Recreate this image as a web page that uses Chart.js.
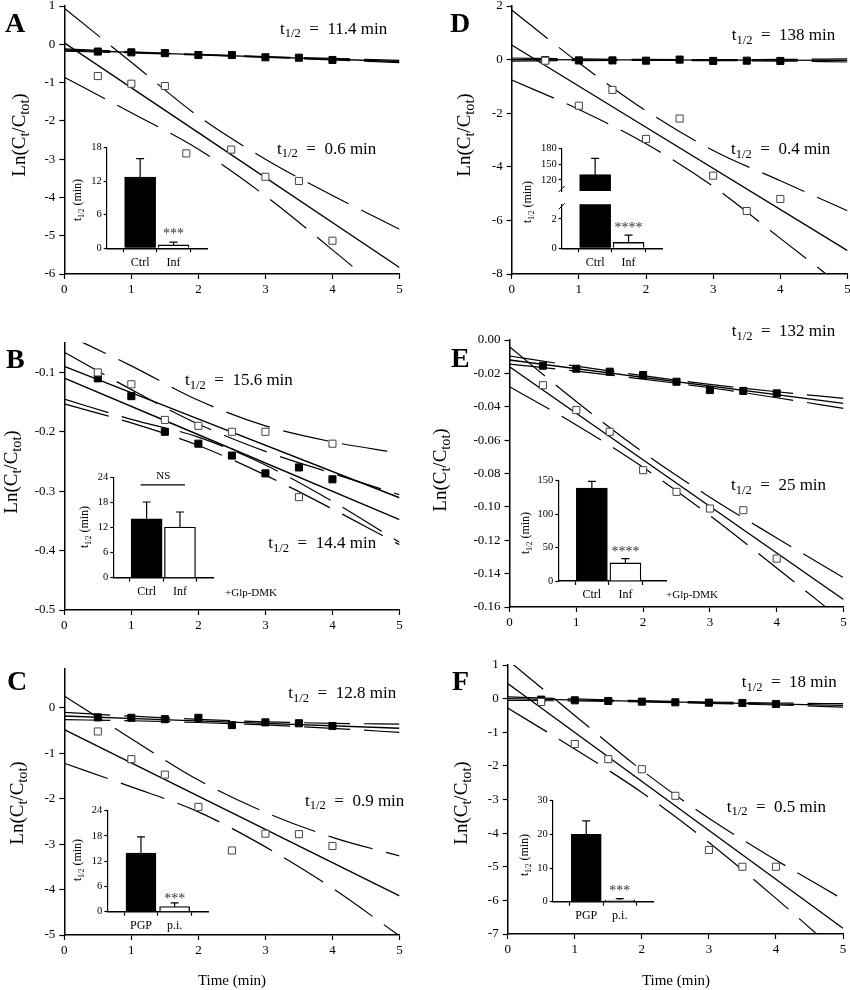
<!DOCTYPE html>
<html>
<head>
<meta charset="utf-8">
<title>Half-life plots A-F</title>
<script src="https://cdn.jsdelivr.net/npm/chart.js@4.4.1/dist/chart.umd.min.js"></script>
<style>
  html, body { margin: 0; padding: 0; background: #fff; }
  body { width: 850px; height: 990px; position: relative; overflow: hidden; }
  canvas { position: absolute; }
</style>
</head>
<body>
<script>
// sampling times (min) and times used for fitted lines / confidence bands
const times = [0.5, 1, 1.5, 2, 2.5, 3, 3.5, 4];
const fitEnds = [0, 5];
const bandTimes = [0, 1, 2, 3, 4, 5];

// panel A
const aCtrl = [-0.19, -0.21, -0.23, -0.28, -0.28, -0.34, -0.35, -0.41];
const aInfTimes = [0.5, 1, 1.5, 1.82, 2.49, 3, 3.5, 4];
const aInf = [-0.83, -1.03, -1.09, -2.85, -2.75, -3.46, -3.57, -5.13];
const aCtrlFit = [-0.15, -0.45];
const aCtrlHi = [-0.12, -0.195, -0.26, -0.32, -0.37, -0.42];
const aCtrlLo = [-0.18, -0.225, -0.28, -0.34, -0.41, -0.48];
const aInfFit = [0.04, -5.83];
const aInfHi = [0.94, -0.47, -1.88, -3.0, -3.95, -4.83];
const aInfLo = [-0.86, -1.79, -2.74, -3.96, -5.37, -6.83];

// panel D
const dCtrl = [-0.02, -0.03, -0.03, -0.04, 0.0, -0.05, -0.04, -0.05];
const dInf = [-0.04, -1.72, -1.13, -2.96, -2.2, -4.33, -5.65, -5.2];
const dCtrlFit = [0.0, -0.03];
const dCtrlHi = [0.06, 0.024, 0.008, 0.002, 0.006, 0.03];
const dCtrlLo = [-0.06, -0.036, -0.032, -0.038, -0.054, -0.09];
const dInfFit = [0.545, -7.13];
const dInfHi = [1.85, -0.12, -1.91, -3.39, -4.52, -5.64];
const dInfLo = [-0.76, -1.86, -3.14, -4.73, -6.67, -8.62];

// panel B
const bCtrl = [-0.11, -0.14, -0.20, -0.22, -0.24, -0.27, -0.26, -0.28];
const bInf = [-0.10, -0.12, -0.18, -0.19, -0.20, -0.20, -0.31, -0.22];
const bCtrlFit = [-0.1095, -0.348];
const bCtrlHi = [-0.066, -0.129, -0.187, -0.233, -0.27, -0.306];
const bCtrlLo = [-0.153, -0.185, -0.223, -0.273, -0.33, -0.39];
const bInfFit = [-0.09, -0.311];
const bInfHi = [-0.035, -0.089, -0.147, -0.19, -0.217, -0.236];
const bInfLo = [-0.145, -0.179, -0.209, -0.256, -0.317, -0.386];

// panel E
const eCtrl = [-0.0154, -0.0172, -0.019, -0.021, -0.025, -0.030, -0.0305, -0.032];
const eInf = [-0.0271, -0.042, -0.055, -0.078, -0.091, -0.101, -0.102, -0.131];
const eCtrlFit = [-0.012, -0.038];
const eCtrlHi = [-0.0096, -0.0157, -0.0214, -0.0266, -0.031, -0.035];
const eCtrlLo = [-0.0144, -0.0187, -0.0234, -0.0286, -0.0346, -0.041];
const eInfFit = [-0.016, -0.1555];
const eInfHi = [-0.004, -0.0369, -0.0673, -0.0942, -0.1186, -0.1425];
const eInfLo = [-0.028, -0.0509, -0.0763, -0.1052, -0.1366, -0.1685];

// panel C
const cCtrl = [-0.21, -0.22, -0.25, -0.22, -0.38, -0.32, -0.34, -0.40];
const cInf = [-0.52, -1.13, -1.47, -2.18, -3.14, -2.77, -2.78, -3.04];
const cCtrlFit = [-0.18, -0.45];
const cCtrlHi = [-0.10, -0.184, -0.253, -0.307, -0.341, -0.36];
const cCtrlLo = [-0.26, -0.284, -0.323, -0.377, -0.451, -0.54];
const cInfFit = [-0.48, -4.14];
const cInfHi = [0.26, -0.68, -1.59, -2.3, -2.85, -3.26];
const cInfLo = [-1.22, -1.74, -2.29, -3.06, -3.97, -5.02];

// panel F
const fCtrl = [-0.03, -0.05, -0.07, -0.09, -0.11, -0.12, -0.13, -0.16];
const fInf = [-0.1, -1.35, -1.8, -2.1, -2.89, -4.5, -5.0, -5.0];
const fCtrlFit = [0.0, -0.2];
const fCtrlHi = [0.05, -0.01, -0.06, -0.10, -0.13, -0.15];
const fCtrlLo = [-0.05, -0.07, -0.10, -0.14, -0.19, -0.25];
const fInfFit = [0.45, -6.83];
const fInfHi = [1.15, -0.5, -2.13, -3.56, -4.8, -5.97];
const fInfLo = [-0.28, -1.5, -2.79, -4.28, -5.94, -7.69];

// half-lives printed on the plots
const halfLives = { A: ['11.4', '0.6'], D: ['138', '0.4'], B: ['15.6', '14.4'], E: ['132', '25'], C: ['12.8', '0.9'], F: ['18', '0.5'] };

// inset bar charts: t1/2 (min), mean and error
const ctrlInfLabels = ['Ctrl', 'Inf'];
const pgpLabels = ['PGP', 'p.i.'];
const aBars = [12.7, 0.6], aErr = [3.3, 0.5];
const dBars = [130, 0.4], dErr = [31, 0.5];
const bBars = [14.1, 12.1], bErr = [4.0, 3.6];
const eBars = [139, 27], eErr = [10, 6.5];
const cBars = [13.9, 1.2], cErr = [3.9, 0.9];
const fBars = [20.0, 0.5], fErr = [4.0, 0.4];

const SERIF = '"Liberation Serif", "Times New Roman", Times, serif';

function addCanvas(x, y, w, h) {
  const c = document.createElement('canvas');
  c.width = w; c.height = h;
  c.style.left = x + 'px'; c.style.top = y + 'px';
  c.style.width = w + 'px'; c.style.height = h + 'px';
  document.body.appendChild(c);
  return c;
}

// text with subscript parts: [[text, isSub], ...]
function richText(ctx, parts, x, y, size, sub, align) {
  const w = parts.map(([t, s]) => {
    ctx.font = (s ? size * sub : size) + 'px ' + SERIF;
    return ctx.measureText(t).width;
  });
  let cx = align === 'center' ? x - w.reduce((a, b) => a + b, 0) / 2 : x;
  parts.forEach(([t, s], i) => {
    ctx.font = (s ? size * sub : size) + 'px ' + SERIF;
    ctx.fillText(t, cx, s ? y + size * 0.22 : y);
    cx += w[i];
  });
}

function rotText(ctx, parts, x, y, size, sub) {
  ctx.save();
  ctx.translate(x, y);
  ctx.rotate(-Math.PI / 2);
  richText(ctx, parts, 0, 0, size, sub, 'center');
  ctx.restore();
}

const lnTitle = [['Ln(C', 0], ['t', 1], ['/C', 0], ['tot', 1], [')', 0]];
const halfTitle = [['t', 0], ['1/2', 1], [' (min)', 0]];
const halfNote = v => [['t', 0], ['1/2', 1], ['\u2002=\u2002' + v + ' min', 0]];

const pts = (xs, ys) => xs.map((x, i) => ({ x: x, y: ys[i] }));

function axisStyle(size) {
  return {
    grid: { display: true, drawOnChartArea: false, drawTicks: true, tickLength: size, color: '#000', tickWidth: 1.2 },
    border: { display: true, color: '#000', width: 1.5 }
  };
}

function mainPanel(p) {
  const [bx, by, bw, bh] = p.box;
  const a = p.area;
  const YW = 46, XH = 26;
  const c = addCanvas(bx, by, bw, bh);
  const line = (xs, ys, dash) => ({
    data: pts(xs, ys), showLine: true, pointRadius: 0, fill: false,
    borderColor: '#000', borderWidth: dash ? 1.2 : 1.4,
    borderDash: dash ? [46, 14] : [], cubicInterpolationMode: 'monotone'
  });
  const datasets = [
    { data: pts(p.infTimes || times, p.inf), pointStyle: 'rect', pointRadius: 5,
      backgroundColor: '#fff', borderColor: '#444', borderWidth: 1 },
    { data: pts(times, p.ctrl), pointStyle: 'rect', pointRadius: 5,
      backgroundColor: '#000', borderColor: '#000', borderWidth: 1 },
    line(fitEnds, p.ctrlFit), line(bandTimes, p.ctrlHi, true), line(bandTimes, p.ctrlLo, true),
    line(fitEnds, p.infFit), line(bandTimes, p.infHi, true), line(bandTimes, p.infLo, true)
  ];
  const tickFont = { family: SERIF, size: 13 };
  new Chart(c, {
    type: 'scatter',
    data: { datasets },
    options: {
      responsive: false, animation: false, devicePixelRatio: 1, events: [],
      layout: { padding: { left: a.l - bx - YW, top: a.t - by, right: bx + bw - a.r, bottom: by + bh - a.b - XH } },
      plugins: { legend: { display: false }, tooltip: { enabled: false } },
      scales: {
        x: Object.assign({
          type: 'linear', min: 0, max: 5,
          ticks: { stepSize: 1, font: tickFont, color: '#000', padding: 3, maxRotation: 0 },
          afterFit: s => { s.height = XH; }
        }, axisStyle(5)),
        y: Object.assign({
          type: 'linear', min: p.yMin, max: p.yMax,
          ticks: { stepSize: p.yStep, includeBounds: false, font: tickFont, color: '#000', padding: 4,
                   callback: v => v.toFixed(p.dec) },
          afterFit: s => { s.width = YW; }
        }, axisStyle(5))
      }
    },
    plugins: [{
      id: 'panelText',
      afterDraw(chart) {
        const ctx = chart.ctx;
        ctx.save();
        ctx.translate(-bx, -by);
        ctx.fillStyle = '#000';
        ctx.textAlign = 'left';
        ctx.textBaseline = 'alphabetic';
        ctx.font = 'bold 28px ' + SERIF;
        ctx.fillText(p.letter[0], p.letter[1], p.letter[2]);
        rotText(ctx, lnTitle, p.yTitle[0], p.yTitle[1], 19, 0.75);
        p.notes.forEach(([v, x, y]) => richText(ctx, halfNote(v), x, y, 17, 0.74, 'left'));
        if (p.xTitle) {
          ctx.font = '15px ' + SERIF;
          ctx.textAlign = 'center';
          ctx.fillText('Time (min)', p.xTitle[0], p.xTitle[1]);
        }
        ctx.restore();
      }
    }]
  });
}

function insetPanel(p) {
  const a = p.area;
  const IYW = 22, IXH = p.hideX ? 0 : 24;
  const bx = Math.floor(a.l - 55), by = Math.floor(a.t - 50);
  const bw = Math.ceil(a.r + 85 - bx), bh = Math.ceil(a.b + (p.hideX ? 10 : 32) - by);
  const c = addCanvas(bx, by, bw, bh);
  const ax = axisStyle(3);
  ax.border.width = 1.2;
  new Chart(c, {
    type: 'bar',
    data: {
      datasets: [{
        data: pts([1, 2], p.bars), backgroundColor: ['#000', '#fff'], borderColor: '#000',
        borderWidth: 1.3, barThickness: p.barW
      }]
    },
    options: {
      responsive: false, animation: false, devicePixelRatio: 1, events: [],
      layout: { padding: { left: a.l - bx - IYW, top: a.t - by, right: bx + bw - a.r, bottom: by + bh - a.b - IXH } },
      plugins: { legend: { display: false }, tooltip: { enabled: false } },
      scales: {
        x: Object.assign({}, axisStyle(4), {
          type: 'linear', min: 0, max: p.xMax || 3, offset: false, display: !p.hideX,
          ticks: { stepSize: 1, includeBounds: false, autoSkip: false, maxRotation: 0, font: { family: SERIF, size: 12 }, color: '#000', padding: 3,
                   callback: v => p.labels[v - 1] || '' },
          afterFit: s => { s.height = IXH; }
        }),
        y: Object.assign({}, ax, {
          type: 'linear', min: p.yMin, max: p.yMax,
          ticks: { stepSize: p.yStep, includeBounds: false, font: { family: SERIF, size: 10.5 }, color: '#000', padding: 2 },
          afterFit: s => { s.width = IYW; }
        })
      }
    },
    plugins: [{
      id: 'insetExtras',
      afterDatasetsDraw(chart) {
        const ctx = chart.ctx, ys = chart.scales.y, ca = chart.chartArea;
        const bars = chart.getDatasetMeta(0).data;
        ctx.save();
        ctx.beginPath();
        ctx.rect(ca.left - 10, ca.top - 1, ca.right - ca.left + 20, ca.bottom - ca.top + 1);
        ctx.clip();
        ctx.strokeStyle = '#000';
        ctx.lineWidth = 1.2;
        bars.forEach((bar, i) => {
          const top = ys.getPixelForValue(p.bars[i] + p.errs[i]);
          const base = ys.getPixelForValue(p.bars[i]);
          ctx.beginPath();
          ctx.moveTo(bar.x, base); ctx.lineTo(bar.x, top);
          ctx.moveTo(bar.x - 4, top); ctx.lineTo(bar.x + 4, top);
          ctx.stroke();
        });
        ctx.restore();

        ctx.save();
        ctx.fillStyle = '#000';
        ctx.strokeStyle = '#000';
        ctx.textBaseline = 'alphabetic';
        if (p.stars) {
          const top = ys.getPixelForValue(p.bars[1] + p.errs[1]);
          ctx.font = '14px ' + SERIF;
          ctx.fillStyle = '#333';
          ctx.textAlign = 'center';
          ctx.fillText(p.stars[0], bars[1].x, top - p.stars[1]);
          ctx.fillStyle = '#000';
        }
        if (p.ns) {
          const y = ys.getPixelForValue(p.ns);
          ctx.lineWidth = 1.2;
          ctx.beginPath();
          ctx.moveTo(bars[0].x - 6, y); ctx.lineTo(bars[1].x + 5, y);
          ctx.stroke();
          ctx.font = '11px ' + SERIF;
          ctx.textAlign = 'center';
          ctx.fillText('NS', (bars[0].x + bars[1].x) / 2, y - 6);
        }
        ctx.translate(-bx, -by);
        if (p.glp) {
          ctx.font = '11px ' + SERIF;
          ctx.textAlign = 'center';
          ctx.fillText('+Glp-DMK', p.glp[0], p.glp[1]);
        }
        if (p.title) {
          ctx.textAlign = 'left';
          rotText(ctx, halfTitle, p.title[0], p.title[1], 12, 0.6);
        }
        if (p.breakAt) {
          const y = p.breakAt === 'bottom' ? a.b - 2 : a.t + 2;
          ctx.lineWidth = 1;
          ctx.beginPath();
          ctx.moveTo(a.l - 3, y + 3); ctx.lineTo(a.l + 3, y - 3);
          ctx.stroke();
        }
        ctx.restore();
      }
    }]
  });
}

// main panels
mainPanel({
  box: [-10, -20, 435, 338], area: { l: 64.3, t: 6, r: 399.5, b: 274 },
  yMin: -6, yMax: 1, yStep: 1, dec: 0,
  ctrl: aCtrl, inf: aInf, infTimes: aInfTimes,
  ctrlFit: aCtrlFit, ctrlHi: aCtrlHi, ctrlLo: aCtrlLo, infFit: aInfFit, infHi: aInfHi, infLo: aInfLo,
  letter: ['A', 5, 32], yTitle: [25, 135],
  notes: [[halfLives.A[0], 280, 33.5], [halfLives.A[1], 277, 153.5]]
});
mainPanel({
  box: [425, -20, 445, 338], area: { l: 511.7, t: 6, r: 847.5, b: 274 },
  yMin: -8, yMax: 2, yStep: 2, dec: 0,
  ctrl: dCtrl, inf: dInf,
  ctrlFit: dCtrlFit, ctrlHi: dCtrlHi, ctrlLo: dCtrlLo, infFit: dInfFit, infHi: dInfHi, infLo: dInfLo,
  letter: ['D', 450, 32], yTitle: [470, 135],
  notes: [[halfLives.D[0], 731.7, 40], [halfLives.D[1], 731, 154]]
});
mainPanel({
  box: [-10, 318, 435, 322], area: { l: 64.3, t: 342.7, r: 399.5, b: 610 },
  yMin: -0.5, yMax: -0.05, yStep: 0.1, dec: 1,
  ctrl: bCtrl, inf: bInf,
  ctrlFit: bCtrlFit, ctrlHi: bCtrlHi, ctrlLo: bCtrlLo, infFit: bInfFit, infHi: bInfHi, infLo: bInfLo,
  letter: ['B', 6, 368], yTitle: [17, 472],
  notes: [[halfLives.B[0], 185, 385], [halfLives.B[1], 268.3, 548.3]]
});
mainPanel({
  box: [425, 318, 445, 322], area: { l: 509.5, t: 340, r: 843.5, b: 607 },
  yMin: -0.16, yMax: 0, yStep: 0.02, dec: 2,
  ctrl: eCtrl, inf: eInf,
  ctrlFit: eCtrlFit, ctrlHi: eCtrlHi, ctrlLo: eCtrlLo, infFit: eInfFit, infHi: eInfHi, infLo: eInfLo,
  letter: ['E', 451, 367], yTitle: [446, 470],
  notes: [[halfLives.E[0], 731.7, 336], [halfLives.E[1], 731, 490]]
});
mainPanel({
  box: [-10, 640, 435, 360], area: { l: 64.3, t: 668.3, r: 399.5, b: 935 },
  yMin: -5, yMax: 0.87, yStep: 1, dec: 0,
  ctrl: cCtrl, inf: cInf,
  ctrlFit: cCtrlFit, ctrlHi: cCtrlHi, ctrlLo: cCtrlLo, infFit: cInfFit, infHi: cInfHi, infLo: cInfLo,
  letter: ['C', 7, 690], yTitle: [23, 803],
  notes: [[halfLives.C[0], 288.3, 698.3], [halfLives.C[1], 305, 805.7]],
  xTitle: [232, 985]
});
mainPanel({
  box: [425, 640, 445, 360], area: { l: 507.7, t: 665, r: 843, b: 934 },
  yMin: -7, yMax: 1, yStep: 1, dec: 0,
  ctrl: fCtrl, inf: fInf,
  ctrlFit: fCtrlFit, ctrlHi: fCtrlHi, ctrlLo: fCtrlLo, infFit: fInfFit, infHi: fInfHi, infLo: fInfLo,
  letter: ['F', 452, 690], yTitle: [467, 803],
  notes: [[halfLives.F[0], 741.7, 687.3], [halfLives.F[1], 726.7, 811.7]],
  xTitle: [676, 985]
});

// insets
insetPanel({ area: { l: 106.7, t: 147.5, r: 207, b: 248.3 }, yMin: 0, yMax: 18, yStep: 6,
  bars: aBars, errs: aErr, labels: ctrlInfLabels, barW: 31, title: [81, 200], stars: ['***', 4] });
insetPanel({ area: { l: 561.7, t: 148.3, r: 662, b: 191 }, yMin: 99, yMax: 180, yStep: 30, hideX: true,
  bars: dBars, errs: dErr, labels: ctrlInfLabels, barW: 31, breakAt: 'bottom' });
insetPanel({ area: { l: 561.7, t: 204.3, r: 662, b: 248.3 }, yMin: 0, yMax: 3, yStep: 2,
  bars: dBars, errs: dErr, labels: ctrlInfLabels, barW: 31, breakAt: 'top',
  title: [531, 202], stars: ['****', 3.5] });
insetPanel({ area: { l: 113.3, t: 477.3, r: 213.3, b: 577.7 }, yMin: 0, yMax: 24, yStep: 6,
  bars: bBars, errs: bErr, labels: ctrlInfLabels, barW: 31, title: [88, 527], ns: 22.2, glp: [251, 596] });
insetPanel({ area: { l: 558.3, t: 480.7, r: 666.7, b: 581 }, yMin: 0, yMax: 150, yStep: 50, xMax: 3.23,
  bars: eBars, errs: eErr, labels: ctrlInfLabels, barW: 31, title: [529, 533], stars: ['****', 3], glp: [692, 598] });
insetPanel({ area: { l: 107.3, t: 810.7, r: 208.3, b: 911.7 }, yMin: 0, yMax: 24, yStep: 6,
  bars: cBars, errs: cErr, labels: pgpLabels, barW: 30, title: [81, 860], stars: ['***', 0] });
insetPanel({ area: { l: 552.7, t: 800.7, r: 653.3, b: 901.7 }, yMin: 0, yMax: 30, yStep: 10,
  bars: fBars, errs: fErr, labels: pgpLabels, barW: 30, title: [528, 855], stars: ['***', 4] });
</script>
</body>
</html>
